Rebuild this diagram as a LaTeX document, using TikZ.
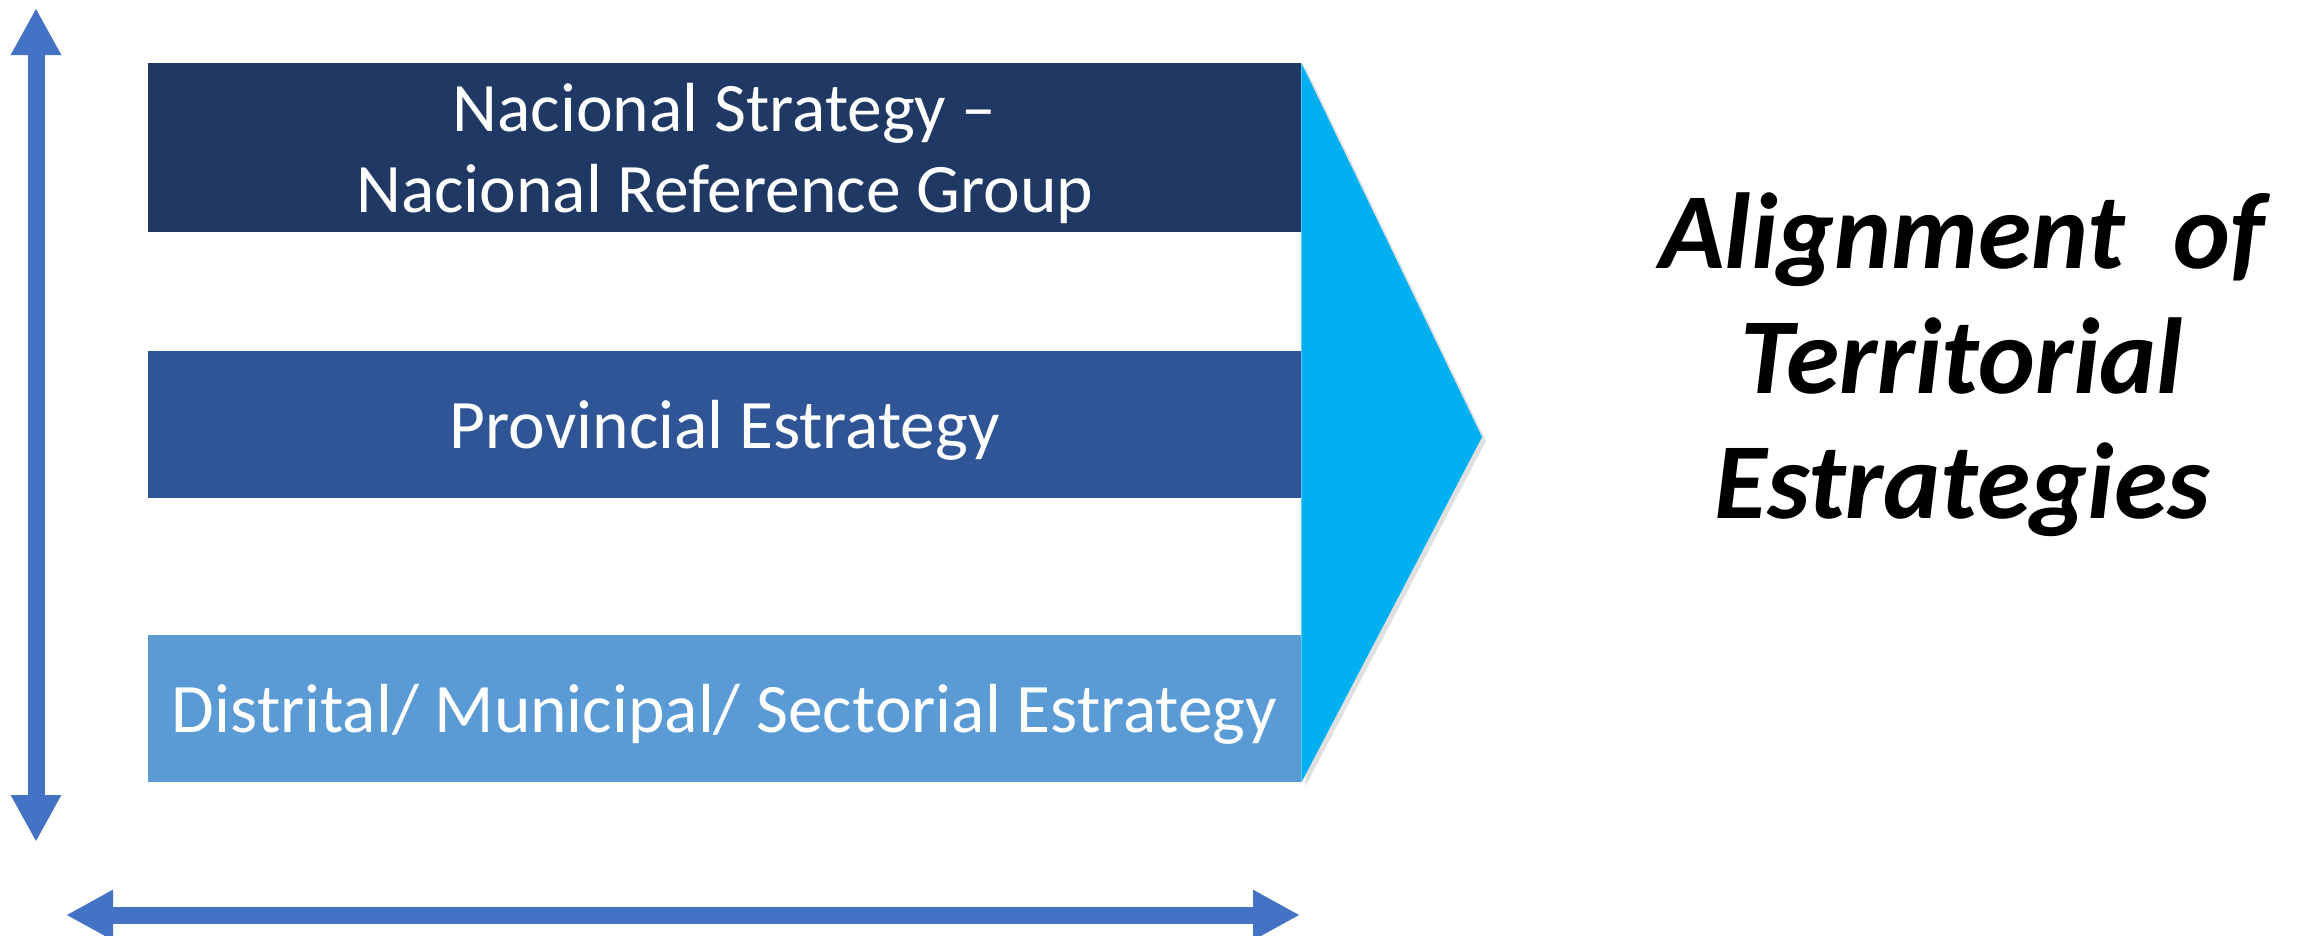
\documentclass[tikz,border=0pt]{standalone}
\usepackage{fontspec}
\setmainfont{Carlito}
\usetikzlibrary{arrows.meta}
\definecolor{cA}{HTML}{1F3864}
\definecolor{cB}{HTML}{2F5597}
\definecolor{cC}{HTML}{5B9BD5}
\definecolor{tri}{HTML}{00B0F0}
\definecolor{arr}{HTML}{4472C4}
\begin{document}
\begin{tikzpicture}[x=1pt,y=-1pt,
  bar/.style={minimum width=1153pt, inner sep=0pt, anchor=north west},
  lbl/.style={inner sep=0pt, text=white, font=\fontsize{69.5}{81}\selectfont, align=center},
  twoarrow/.style={line width=17pt, draw=arr,
    {Triangle[length=47pt,width=47pt]}-{Triangle[length=47pt,width=47pt]}}]
\useasboundingbox (0,0) rectangle (2305,935);
% bars
\node[bar, fill=cA, minimum height=169pt] (n1) at (148,63) {};
\node[bar, fill=cB, minimum height=147pt] (n2) at (148,351) {};
\node[bar, fill=cC, minimum height=147pt] (n3) at (148,635) {};
\node[lbl] (t1) at ([yshift=-6pt]n1.center) {Nacional Strategy –\\Nacional Reference Group};
\node[lbl] (t2) at ([yshift=-6pt]n2.center) {Provincial Estrategy};
\node[lbl] (t3) at ([yshift=-6pt]n3.center) {Distrital/ Municipal/ Sectorial Estrategy};
% triangle with soft shadow
\coordinate (apex) at (1482,437);
\fill[black, opacity=0.12] ([xshift=4pt,yshift=-4pt]n1.north east) -- ([xshift=4pt,yshift=-4pt]apex) -- ([xshift=4pt,yshift=-4pt]n3.south east) -- cycle;
\fill[tri] (n1.north east) -- (apex) -- (n3.south east) -- cycle;
% arrows
\coordinate (vt) at (36,8);
\coordinate (vb) at (36,842);
\coordinate (hl) at (66,915);
\coordinate (hr) at (1300,915);
\draw[twoarrow] (vt) -- (vb);
\draw[twoarrow] (hl) -- (hr);
% title
\node[align=center, inner sep=0pt, font=\fontsize{108}{125}\selectfont\bfseries\itshape] (title) at (1962,365) {Alignment\ \ of\\Territorial\\Estrategies};
\end{tikzpicture}
\end{document}
